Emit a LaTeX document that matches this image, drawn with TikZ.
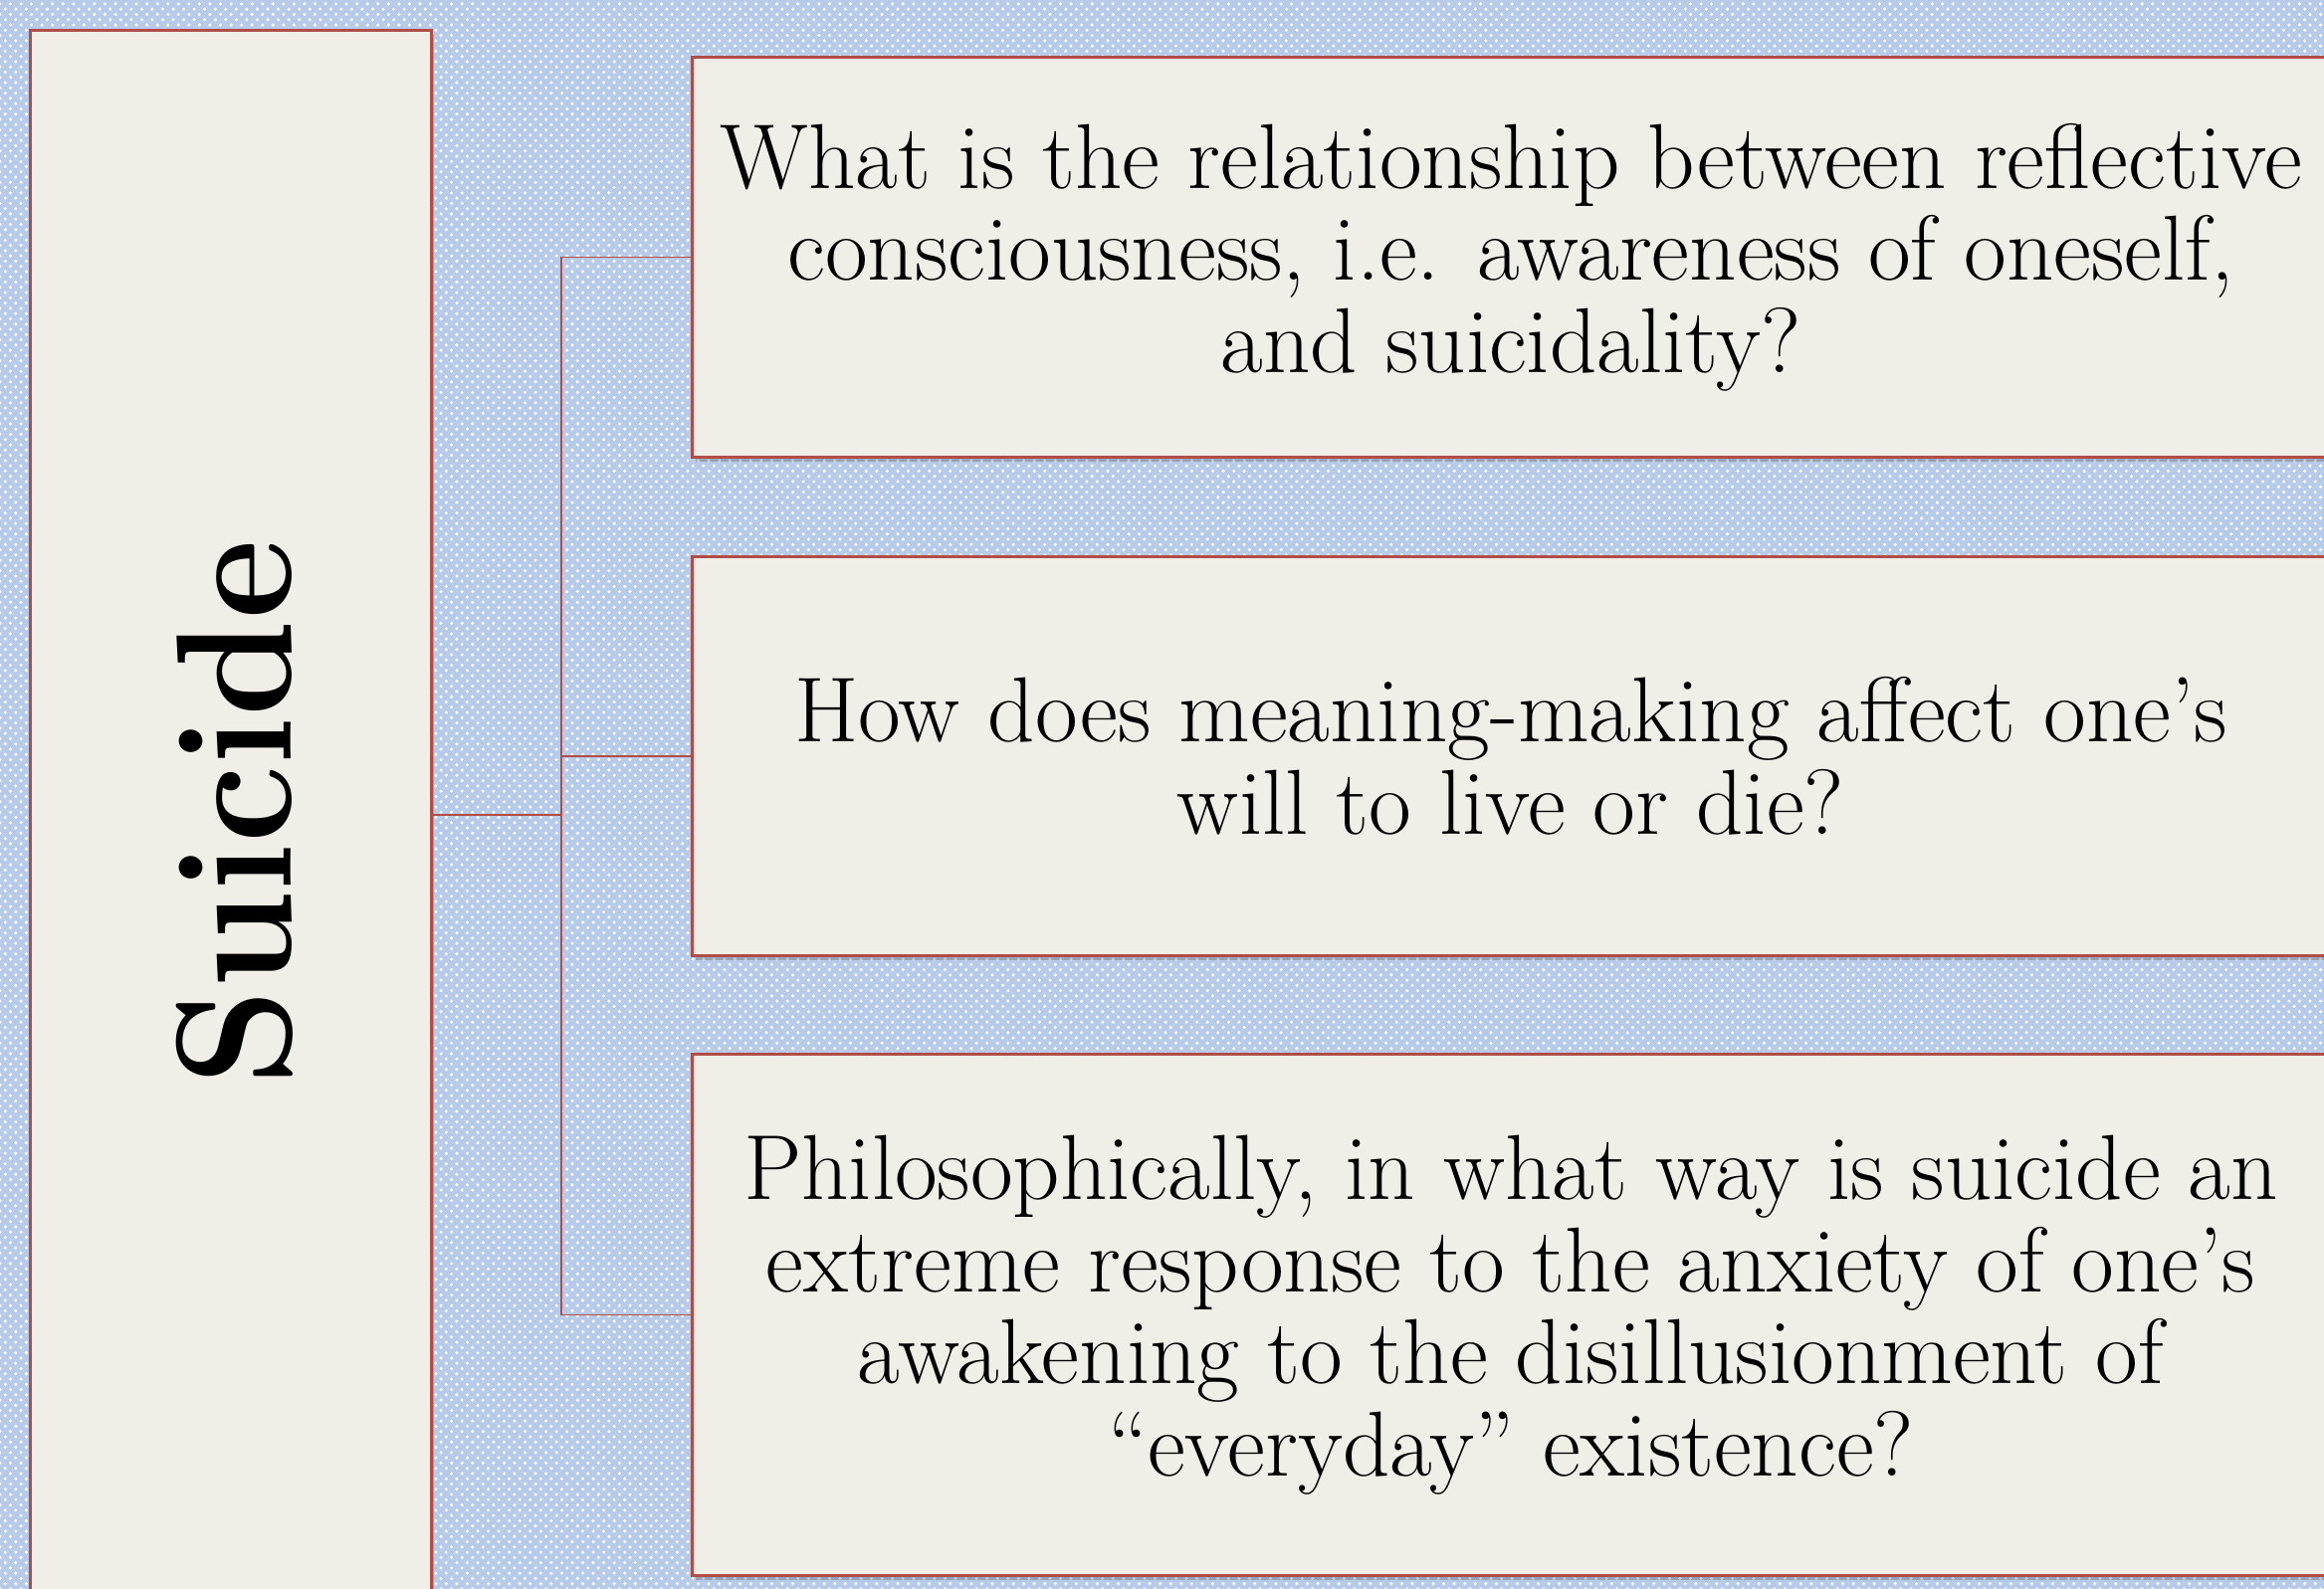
\documentclass[tikz,border=0pt]{standalone}
\usetikzlibrary{shadows,patterns}
\definecolor{bgblue}{RGB}{182,202,234}
\definecolor{boxfill}{RGB}{240,239,231}
\definecolor{boxline}{RGB}{178,76,70}
\begin{document}
\begin{tikzpicture}[x=0.01cm,y=-0.01cm,
  qbox/.style={draw=boxline, line width=0.8pt, fill=boxfill, inner sep=0pt,
    drop shadow={shadow xshift=0.03cm, shadow yshift=-0.045cm, opacity=0.3, fill=black!70}},
  link/.style={draw=boxline, line width=0.55pt},
  qtext/.style={align=center, font=\fontsize{26.4}{26.3}\selectfont, text=black},
  roottext/.style={rotate=90, font=\fontsize{47}{48}\selectfont\bfseries, text=black}]
\useasboundingbox (0,0) rectangle (2335,1597);
\fill[bgblue] (0,0) rectangle (2335,1597);
\fill[pattern=crosshatch dots, pattern color=white] (0,0) rectangle (2335,1597);

\node[qbox, minimum width=4.02cm, minimum height=15.76cm] (root) at (232,819) {};
\node[roottext] (rootlabel) at (236,817) {\scalebox{0.945}[1]{Suicide}};

\node[qbox, qtext, minimum width=16.44cm, minimum height=4.01cm] (q1) at (1518,258.5)
  {What is the relationship between reflective\\consciousness, i.e. awareness of oneself,\\and suicidality?};
\node[qbox, qtext, minimum width=16.44cm, minimum height=4.00cm] (q2) at (1518,760)
  {How does meaning-making affect one's\\will to live or die?};
\node[qbox, qtext, minimum width=16.44cm, minimum height=5.23cm] (q3) at (1518,1321.5)
  {Philosophically, in what way is suicide an\\extreme response to the anxiety of one's\\awakening to the disillusionment of\\``everyday'' existence?};

\coordinate (hub) at (564,819);
\coordinate (j1) at (q1.west -| hub);
\coordinate (j2) at (q2.west -| hub);
\coordinate (j3) at (q3.west -| hub);
\draw[link] (root.east |- hub) -- (hub);
\draw[link] (j1) -- (j3);
\draw[link] (j1) -- (q1.west);
\draw[link] (j2) -- (q2.west);
\draw[link] (j3) -- (q3.west);
\end{tikzpicture}
\end{document}
